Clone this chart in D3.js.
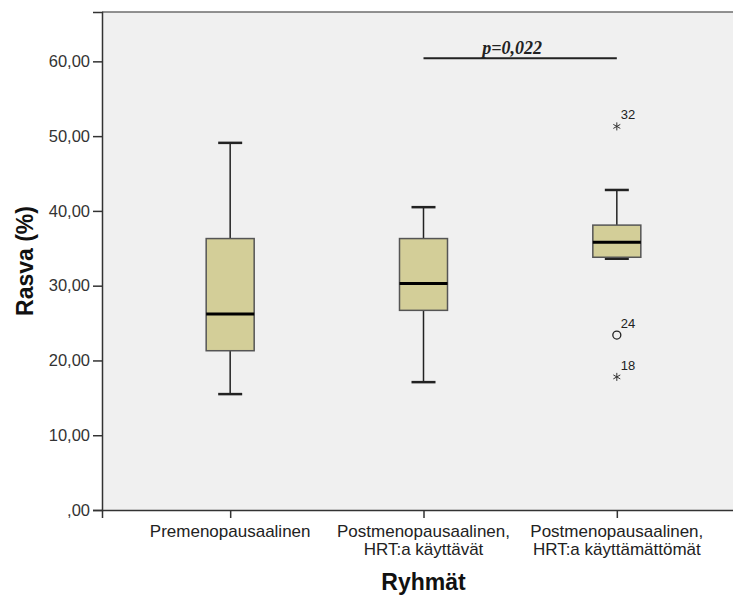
<!DOCTYPE html>
<html>
<head>
<meta charset="utf-8">
<script src="https://cdn.jsdelivr.net/npm/d3@7"></script>
<style>
  body { margin: 0; background: #fff; }
  svg { display: block; font-family: "Liberation Sans", Arial, sans-serif; }
</style>
</head>
<body>
<div id="chart"></div>
<script>
// groups and box statistics
const groups = ["Premenopausaalinen", "Postmenopausaalinen, HRT:a käyttävät", "Postmenopausaalinen, HRT:a käyttämättömät"];
const groupLines = [["Premenopausaalinen"], ["Postmenopausaalinen,", "HRT:a käyttävät"], ["Postmenopausaalinen,", "HRT:a käyttämättömät"]];
const whiskerLow = [15.5, 17.1, 33.6];
const q1 = [21.3, 26.7, 33.8];
const median = [26.2, 30.3, 35.8];
const q3 = [36.3, 36.3, 38.1];
const whiskerHigh = [49.1, 40.5, 42.8];

const outlierGroup = [2, 2, 2];
const outlierValue = [51.3, 23.4, 17.8];
const outlierLabel = ["32", "24", "18"];
const outlierType = ["extreme", "outlier", "extreme"];

const yTicks = [0, 10, 20, 30, 40, 50, 60];
const pText = "p=0,022";
const pValueLevel = 60.4;
const pGroups = [1, 2];

const W = 733, H = 595;
const margin = { top: 12, right: -12, bottom: 85, left: 102 };
const width = W - margin.left - margin.right,
      height = H - margin.top - margin.bottom;

const svg = d3.select("#chart")
    .append("svg")
    .attr("width", W)
    .attr("height", H);

const g = svg.append("g")
    .attr("transform", `translate(${margin.left}, ${margin.top})`);

const x = d3.scalePoint()
    .domain(groups)
    .range([0, width])
    .padding(0.663);

const y = d3.scaleLinear()
    .domain([0, 66.6])
    .range([height, 0]);

// plot background
g.append("rect")
    .attr("width", width)
    .attr("height", height)
    .attr("fill", "#f0f0f0");

// top border
g.append("line")
    .attr("x1", 0).attr("x2", width)
    .attr("y1", 0).attr("y2", 0)
    .attr("stroke", "#6e6e6e")
    .attr("stroke-width", 1.5);

const fmt = v => v === 0 ? ",00" : v.toFixed(2).replace(".", ",");

const axisL = d3.axisLeft(y)
    .tickValues(yTicks)
    .tickFormat(fmt)
    .tickSize(9)
    .tickPadding(3);

g.append("g")
    .call(axisL)
    .call(a => a.select(".domain").attr("stroke", "#333").attr("stroke-width", 1.5))
    .call(a => a.selectAll(".tick line").attr("stroke", "#333").attr("stroke-width", 1.5))
    .call(a => a.selectAll("text")
        .attr("font-size", "16.5px")
        .attr("font-family", "Liberation Sans, Arial, sans-serif")
        .attr("fill", "#333"));

const axisB = d3.axisBottom(x)
    .tickSize(8)
    .tickFormat("");

g.append("g")
    .attr("transform", `translate(0, ${height})`)
    .call(axisB)
    .call(a => a.select(".domain").attr("stroke", "#333").attr("stroke-width", 1.5))
    .call(a => a.selectAll(".tick line").attr("stroke", "#333").attr("stroke-width", 1.5));

// category labels
const catLabels = g.append("g").selectAll("text")
    .data(groups)
    .join("text")
    .attr("x", d => x(d))
    .attr("y", height + 27)
    .attr("text-anchor", "middle")
    .attr("font-size", "17px")
    .attr("fill", "#222");

catLabels.each(function (d, i) {
    d3.select(this).selectAll("tspan")
        .data(groupLines[i])
        .join("tspan")
        .attr("x", x(d))
        .attr("dy", (t, j) => j === 0 ? 0 : 17.5)
        .text(t => t);
});

// axis titles
svg.append("text")
    .attr("transform", `translate(33, 261) rotate(-90)`)
    .attr("text-anchor", "middle")
    .attr("font-size", "23px")
    .attr("font-weight", "bold")
    .attr("fill", "#111")
    .text("Rasva (%)");

svg.append("text")
    .attr("x", margin.left + x(groups[1]))
    .attr("y", 590)
    .attr("text-anchor", "middle")
    .attr("font-size", "23px")
    .attr("font-weight", "bold")
    .attr("fill", "#111")
    .text("Ryhmät");

// boxes
const boxW = 48, capW = 24;
const boxes = g.append("g").selectAll("g")
    .data(groups)
    .join("g")
    .attr("transform", d => `translate(${x(d)}, 0)`);

boxes.append("line")
    .attr("y1", (d, i) => y(whiskerHigh[i]))
    .attr("y2", (d, i) => y(q3[i]))
    .attr("stroke", "#222").attr("stroke-width", 1.5);

boxes.append("line")
    .attr("y1", (d, i) => y(whiskerLow[i]))
    .attr("y2", (d, i) => y(q1[i]))
    .attr("stroke", "#222").attr("stroke-width", 1.5);

boxes.append("line")
    .attr("x1", -capW / 2).attr("x2", capW / 2)
    .attr("y1", (d, i) => y(whiskerHigh[i]))
    .attr("y2", (d, i) => y(whiskerHigh[i]))
    .attr("stroke", "#222").attr("stroke-width", 2.5);

boxes.append("line")
    .attr("x1", -capW / 2).attr("x2", capW / 2)
    .attr("y1", (d, i) => y(whiskerLow[i]))
    .attr("y2", (d, i) => y(whiskerLow[i]))
    .attr("stroke", "#222").attr("stroke-width", 2.5);

boxes.append("rect")
    .attr("x", -boxW / 2)
    .attr("width", boxW)
    .attr("y", (d, i) => y(q3[i]))
    .attr("height", (d, i) => y(q1[i]) - y(q3[i]))
    .attr("fill", "#d3ce98")
    .attr("stroke", "#555")
    .attr("stroke-width", 1.5);

boxes.append("line")
    .attr("x1", -boxW / 2).attr("x2", boxW / 2)
    .attr("y1", (d, i) => y(median[i]))
    .attr("y2", (d, i) => y(median[i]))
    .attr("stroke", "#000").attr("stroke-width", 3);

// outliers
const out = outlierValue.map((v, i) => ({ v, g: outlierGroup[i], label: outlierLabel[i], type: outlierType[i] }));

const star = d3.symbol().type(d3.symbolAsterisk).size(45);
g.append("g").selectAll("path")
    .data(out.filter(d => d.type === "extreme"))
    .join("path")
    .attr("transform", d => `translate(${x(groups[d.g])}, ${y(d.v)})`)
    .attr("d", star)
    .attr("fill", "none")
    .attr("stroke", "#333")
    .attr("stroke-width", 1);

g.append("g").selectAll("circle")
    .data(out.filter(d => d.type === "outlier"))
    .join("circle")
    .attr("cx", d => x(groups[d.g]))
    .attr("cy", d => y(d.v))
    .attr("r", 4)
    .attr("fill", "none")
    .attr("stroke", "#222")
    .attr("stroke-width", 1.3);

g.append("g").selectAll("text")
    .data(out)
    .join("text")
    .attr("x", d => x(groups[d.g]) + 4)
    .attr("y", d => y(d.v) - 7)
    .attr("font-size", "13px")
    .attr("fill", "#222")
    .text(d => d.label);

// significance line
g.append("line")
    .attr("x1", x(groups[pGroups[0]]))
    .attr("x2", x(groups[pGroups[1]]))
    .attr("y1", y(pValueLevel))
    .attr("y2", y(pValueLevel))
    .attr("stroke", "#222")
    .attr("stroke-width", 2);

g.append("text")
    .attr("x", (x(groups[pGroups[0]]) + x(groups[pGroups[1]])) / 2 - 8)
    .attr("y", y(pValueLevel) - 4)
    .attr("text-anchor", "middle")
    .attr("font-family", "Liberation Serif, Times New Roman, serif")
    .attr("font-style", "italic")
    .attr("font-weight", "bold")
    .attr("font-size", "18px")
    .attr("fill", "#222")
    .text(pText);
</script>
</body>
</html>
